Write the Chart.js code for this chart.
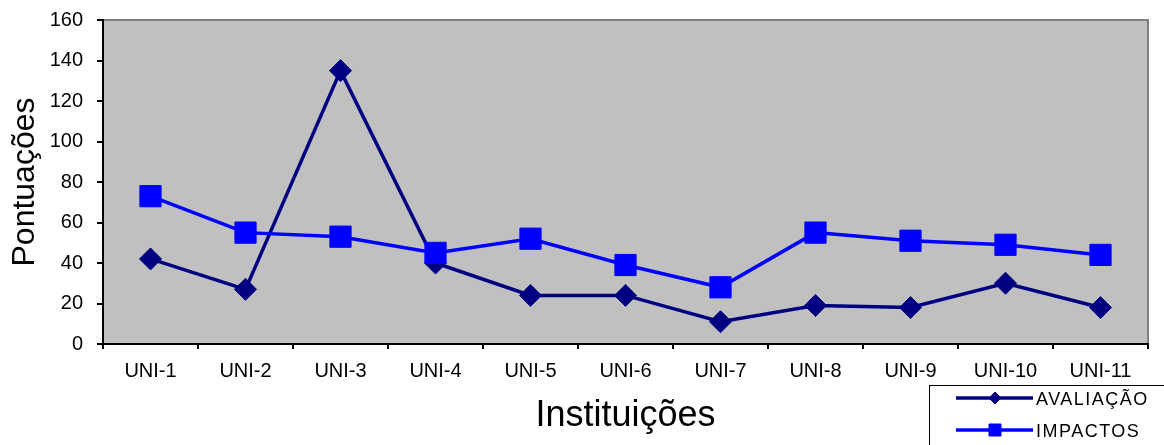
<!DOCTYPE html>
<html>
<head>
<meta charset="utf-8">
<script src="https://cdn.jsdelivr.net/npm/chart.js@4/dist/chart.umd.min.js"></script>
<style>
  html, body { margin: 0; padding: 0; background: #ffffff; }
  canvas { display: block; }
</style>
</head>
<body>
<canvas id="chart" width="1164" height="445"></canvas>
<script>
// Categories and series
const instituicoes = ['UNI-1', 'UNI-2', 'UNI-3', 'UNI-4', 'UNI-5', 'UNI-6', 'UNI-7', 'UNI-8', 'UNI-9', 'UNI-10', 'UNI-11'];
const avaliacao = [42, 27, 135, 40, 24, 24, 11, 19, 18, 30, 18];
const impactos = [73, 55, 53, 45, 52, 39, 28, 55, 51, 49, 44];

// Value axis
const yMin = 0;
const yMax = 160;
const yStep = 20;

const FONT = '"Liberation Sans", Arial, sans-serif';

// Grey plot area with a darker frame
const plotFrame = {
  id: 'plotFrame',
  beforeDraw(chart) {
    const { ctx, chartArea: a } = chart;
    ctx.save();
    ctx.fillStyle = '#C0C0C0';
    ctx.fillRect(a.left, a.top, a.right - a.left, a.bottom - a.top);
    ctx.strokeStyle = '#808080';
    ctx.lineWidth = 2;
    ctx.strokeRect(a.left, a.top, a.right - a.left, a.bottom - a.top);
    ctx.restore();
  }
};

// Boxed legend in the lower right corner
const boxLegend = {
  id: 'boxLegend',
  afterDraw(chart) {
    const ctx = chart.ctx;
    ctx.save();
    ctx.strokeStyle = '#000000';
    ctx.lineWidth = 1;
    ctx.strokeRect(929.5, 385.5, 400, 100);
    const rows = [398, 430];
    chart.data.datasets.forEach((ds, i) => {
      const y = rows[i];
      ctx.strokeStyle = ds.borderColor;
      ctx.lineWidth = 3.5;
      ctx.beginPath();
      ctx.moveTo(956, y);
      ctx.lineTo(1033, y);
      ctx.stroke();
      ctx.fillStyle = ds.pointBackgroundColor;
      ctx.strokeStyle = ds.pointBorderColor;
      ctx.lineWidth = 1;
      Chart.helpers.drawPoint(ctx, {
        pointStyle: ds.pointStyle,
        rotation: 0,
        radius: ds.legendRadius,
        borderWidth: 1
      }, 995, y);
      ctx.fillStyle = '#000000';
      ctx.font = '18px ' + FONT;
      ctx.textBaseline = 'middle';
      ctx.textAlign = 'left';
      ctx.letterSpacing = '1.5px';
      ctx.fillText(ds.label, 1036, y + 2);
    });
    ctx.restore();
  }
};

new Chart(document.getElementById('chart'), {
  type: 'line',
  data: {
    labels: instituicoes,
    datasets: [
      {
        label: 'AVALIAÇÃO',
        data: avaliacao,
        borderColor: '#000080',
        backgroundColor: '#000080',
        borderWidth: 3.5,
        pointStyle: 'rectRot',
        pointRadius: 11,
        pointHoverRadius: 11,
        pointBackgroundColor: '#000080',
        pointBorderColor: '#000080',
        pointBorderWidth: 1,
        legendRadius: 6,
        tension: 0,
        fill: false,
        order: 1
      },
      {
        label: 'IMPACTOS',
        data: impactos,
        borderColor: '#0000FF',
        backgroundColor: '#0000FF',
        borderWidth: 3.5,
        pointStyle: 'rect',
        pointRadius: 15,
        pointHoverRadius: 15,
        pointBackgroundColor: '#0000FF',
        pointBorderColor: '#0000FF',
        pointBorderWidth: 1,
        legendRadius: 8.5,
        tension: 0,
        fill: false,
        order: 0
      }
    ]
  },
  options: {
    responsive: false,
    animation: false,
    events: [],
    layout: { padding: { top: 20, right: 12, left: 0, bottom: 0 } },
    plugins: {
      legend: { display: false },
      tooltip: { enabled: false }
    },
    scales: {
      x: {
        type: 'category',
        offset: true,
        grid: {
          offset: true,
          drawOnChartArea: false,
          drawTicks: true,
          tickLength: 5,
          color: '#000000',
          lineWidth: 2
        },
        border: { display: true, color: '#000000', width: 2 },
        ticks: {
          color: '#000000',
          font: { family: FONT, size: 20 },
          padding: 10,
          maxRotation: 0,
          autoSkip: false
        },
        title: {
          display: true,
          text: 'Instituições',
          color: '#000000',
          font: { family: FONT, size: 36 },
          padding: { top: 0, bottom: 7 }
        },
        afterFit(scale) { scale.height = 101; }
      },
      y: {
        min: yMin,
        max: yMax,
        grid: {
          drawOnChartArea: false,
          drawTicks: true,
          tickLength: 6,
          color: '#000000',
          lineWidth: 2
        },
        border: { display: true, color: '#000000', width: 2 },
        ticks: {
          stepSize: yStep,
          color: '#000000',
          font: { family: FONT, size: 20 },
          padding: 14
        },
        title: {
          display: true,
          text: 'Pontuações',
          color: '#000000',
          font: { family: FONT, size: 32 },
          padding: { top: 6, bottom: 0 }
        },
        afterFit(scale) {
          scale.width = 103;
          scale.paddingTop = 0;
          scale.paddingBottom = 0;
        }
      }
    }
  },
  plugins: [plotFrame, boxLegend]
});
</script>
</body>
</html>
